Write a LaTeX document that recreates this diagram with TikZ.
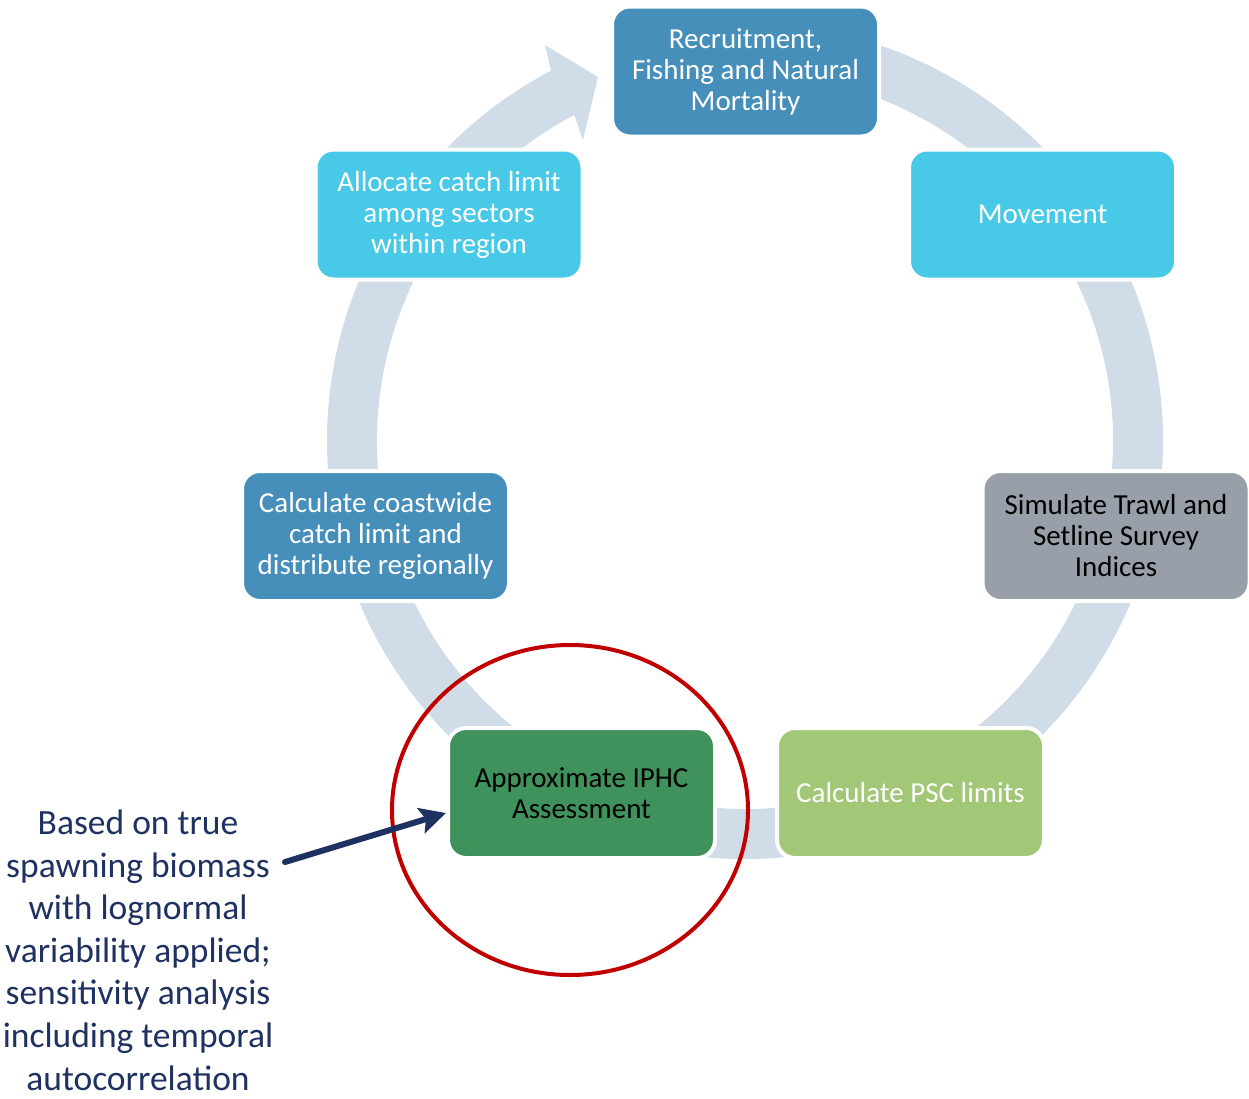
\documentclass[tikz,border=0pt]{standalone}
\usepackage{fontspec}
\setmainfont{Carlito}
\usetikzlibrary{arrows.meta}
\definecolor{ringblue}{HTML}{D0DCE7}
\definecolor{midblue}{HTML}{468FBA}
\definecolor{cyanbox}{HTML}{48C9E7}
\definecolor{greybox}{HTML}{989FA9}
\definecolor{lightgreen}{HTML}{A2C777}
\definecolor{darkgreen}{HTML}{40925C}
\definecolor{navy}{HTML}{1F3160}
\definecolor{focusred}{HTML}{C00000}
\begin{document}
\begin{tikzpicture}[x=1pt,y=1pt,
  stepbox/.style={rounded corners=18pt, minimum width=267pt, minimum height=130pt,
    draw=white, line width=4pt, align=center, inner sep=0pt,
    font=\fontsize{29}{31}\selectfont},
  notetext/.style={align=center, inner sep=0pt, text=navy,
    font=\fontsize{35.5}{42.6}\selectfont},
  pointer/.style={draw=navy, line width=6pt, line cap=round,
    -{Stealth[length=26pt, width=26pt, inset=5pt]}},
  focus/.style={draw=focusred, line width=4pt}]
\useasboundingbox (0,0) rectangle (1249,-1098);

% cycle ring with its arrowhead pointing back to the top step
\begin{scope}[shift={(745,-441)}]
  \fill[ringblue]
    (90:418) arc[start angle=90, end angle=-242.35, radius=418]
    -- (-243.2:443.6) -- (-248:392.6) -- (-241.7:341.8) -- (-242.35:368)
    arc[start angle=-242.35, end angle=90, radius=368] -- cycle;
\end{scope}

% the seven steps of the cycle
\node[stepbox, fill=midblue, text=white] (recr) at (745.5,-71.5)
  {Recruitment,\\Fishing and Natural\\Mortality};
\node[stepbox, fill=cyanbox, text=white] (move) at (1042.5,-214.5) {Movement};
\node[stepbox, fill=greybox, text=black] (survey) at (1116,-536)
  {Simulate Trawl and\\Setline Survey\\Indices};
\node[stepbox, fill=lightgreen, text=white] (psc) at (910.5,-793) {Calculate PSC limits};
\node[stepbox, fill=darkgreen, text=black] (iphc) at (581.5,-793)
  {Approximate IPHC\\Assessment};
\node[stepbox, fill=midblue, text=white] (coast) at (375.5,-536)
  {Calculate coastwide\\catch limit and\\distribute regionally};
\node[stepbox, fill=cyanbox, text=white] (alloc) at (449,-214.5)
  {Allocate catch limit\\among sectors\\within region};

% highlight around the assessment step
\draw[focus] (570,-810) ellipse[x radius=178, y radius=165];

% explanatory note
\node[notetext] (note) at (138,-950)
  {Based on true\\spawning biomass\\with lognormal\\variability applied;\\sensitivity analysis\\including temporal\\autocorrelation};
\coordinate (notetail) at (285,-862);
\draw[pointer] (notetail) -- ([yshift=-20pt]iphc.west);
\end{tikzpicture}
\end{document}
